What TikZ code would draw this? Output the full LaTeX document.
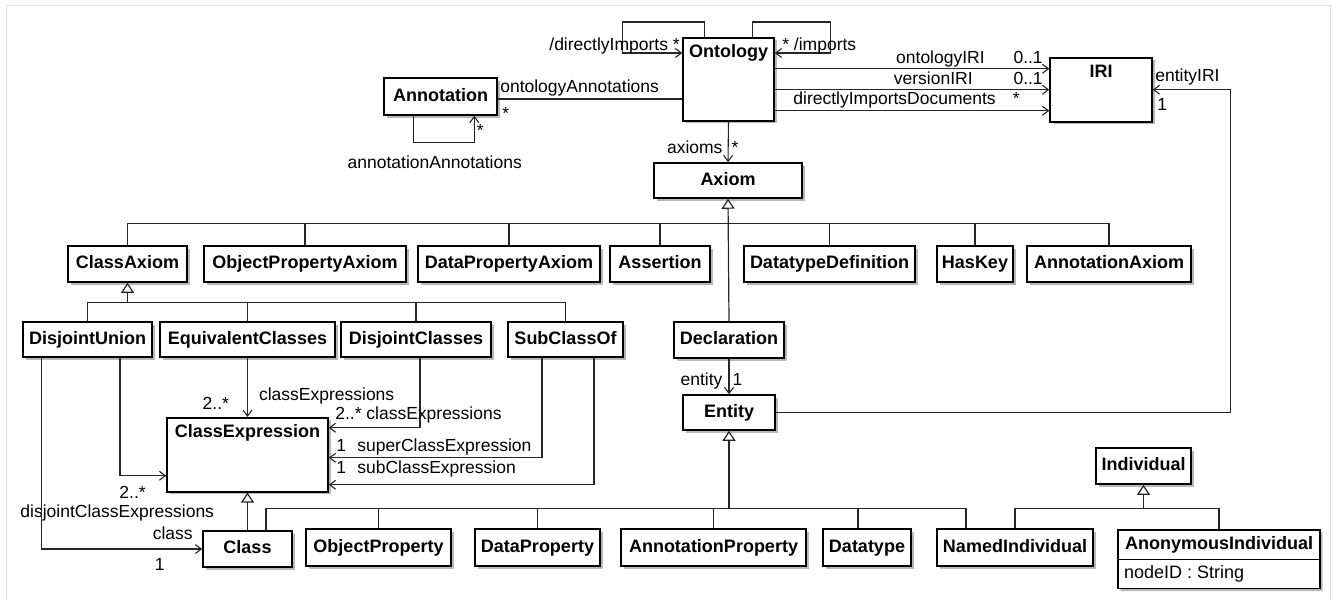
\documentclass[tikz,border=0pt]{standalone}
\usepackage{fontspec}
\setmainfont{Liberation Sans}
\usetikzlibrary{arrows.meta,shapes.multipart,shadows,positioning}

\begin{document}
\begin{tikzpicture}
		[x=1pt,y=-1pt,>={Straight Barb[length=6pt,width=9pt]},
		umlbox/.style={draw,line width=1.5pt,fill=white,general shadow={fill=black!28,shadow xshift=2.5pt,shadow yshift=-2.5pt},font=\bfseries\fontsize{18}{21}\selectfont,inner xsep=4pt,inner ysep=0pt,text height=13pt,text depth=4pt,minimum height=36pt},
		tallbox/.style={umlbox,anchor=north,inner ysep=7pt,text depth=#1},
		lbl/.style={font=\fontsize{17.5}{20}\selectfont,inner sep=1pt,text height=13pt,text depth=4pt},
		assoc/.style={draw=black!85,line width=1.1pt},
		gen/.style={draw=black!85,line width=1.2pt,-{Triangle[open,length=10pt,width=13pt,fill=white]}},
		genline/.style={draw=black!85,line width=1.2pt}]
		\useasboundingbox (0,0) rectangle (1344,600);
		\draw[black!12,line width=1pt] (6,600) -- (6,5) -- (1330,5) -- (1330,600);

		\node[umlbox,minimum width=113pt,minimum height=37pt] (Annotation) at (440.5,96.5) {Annotation};
		\node[tallbox=56pt,minimum width=91pt] (Ontology) at (728.5,37) {Ontology};
		\node[tallbox=37pt,minimum width=102pt] (IRI) at (1101,57) {IRI};
		\node[umlbox,minimum width=148pt,minimum height=35pt] (Axiom) at (728,180.5) {Axiom};

		\node[umlbox,minimum width=119pt] (ClassAxiom) at (127.5,264) {ClassAxiom};
		\node[umlbox,minimum width=202pt] (ObjectPropertyAxiom) at (305,264) {ObjectPropertyAxiom};
		\node[umlbox,minimum width=182pt] (DataPropertyAxiom) at (509,264) {DataPropertyAxiom};
		\node[umlbox,minimum width=100pt] (Assertion) at (660,264) {Assertion};
		\node[umlbox,minimum width=171pt] (DatatypeDefinition) at (829.5,264) {DatatypeDefinition};
		\node[umlbox,minimum width=76pt] (HasKey) at (975,264) {HasKey};
		\node[umlbox,minimum width=164pt] (AnnotationAxiom) at (1109,264) {AnnotationAxiom};

		\node[umlbox,minimum width=129pt,minimum height=35pt] (DisjointUnion) at (87.5,339.5) {DisjointUnion};
		\node[umlbox,minimum width=175pt,minimum height=35pt] (EquivalentClasses) at (247.5,339.5) {EquivalentClasses};
		\node[umlbox,minimum width=150pt,minimum height=35pt] (DisjointClasses) at (416,339.5) {DisjointClasses};
		\node[umlbox,minimum width=115pt,minimum height=35pt] (SubClassOf) at (565.5,339.5) {SubClassOf};
		\node[umlbox,minimum width=110pt] (Declaration) at (729,340) {Declaration};

		\node[tallbox=47pt,minimum width=161pt] (ClassExpression) at (247.5,417) {ClassExpression};
		\node[umlbox,minimum width=92pt,minimum height=35pt] (Entity) at (729,412.5) {Entity};
		\node[umlbox,minimum width=95pt] (Individual) at (1143.5,466) {Individual};

		\node[umlbox,minimum width=89pt] (Class) at (247.5,549) {Class};
		\node[umlbox,minimum width=145pt,minimum height=37pt] (ObjectProperty) at (378.5,547.5) {ObjectProperty};
		\node[umlbox,minimum width=125pt,minimum height=37pt] (DataProperty) at (537.5,547.5) {DataProperty};
		\node[umlbox,minimum width=185pt,minimum height=37pt] (AnnotationProperty) at (713.5,547.5) {AnnotationProperty};
		\node[umlbox,minimum width=88pt,minimum height=37pt] (Datatype) at (867,547.5) {Datatype};
		\node[umlbox,minimum width=156pt,minimum height=37pt] (NamedIndividual) at (1015,547.5) {NamedIndividual};
		\node[umlbox,anchor=north,rectangle split,rectangle split parts=2,rectangle split part align={center,left},inner xsep=6pt,inner ysep=5.5pt,minimum height=0pt] (AnonymousIndividual) at (1219,529)
			{\makebox[190pt]{AnonymousIndividual}\nodepart{two}\mdseries nodeID : String};

		\draw[assoc,->] ([xshift=-24pt]Ontology.north) -- ++(0,-15) -- ++(-82,0) |- ([yshift=-16pt]Ontology.north west) node[lbl,above left=-3pt and 1pt] {/directlyImports *};
		\draw[assoc,->] ([xshift=24pt]Ontology.north) -- ++(0,-15) -- ++(78,0) |- ([yshift=-16pt]Ontology.north east) node[lbl,above right=-3pt and 6pt] {* /imports};

		\coordinate (annOut) at ([yshift=-2.5pt]Annotation.east);
		\draw[assoc] (annOut) -- (annOut -| Ontology.west) node[lbl,pos=0,above right=1pt and 1pt] {ontologyAnnotations} node[lbl,pos=0,below right=6pt and 3pt] {*};
		\draw[assoc,->] ([xshift=30pt]Annotation.south west) -- ++(0,27) -- node[lbl,below=11pt,xshift=-9pt] {annotationAnnotations} ++(61,0) -- ++(0,-27) node[lbl,below right=6pt and 1pt] {*};

		\coordinate (ontIRI) at ([yshift=10.5pt]Ontology.east);
		\coordinate (verIRI) at ([yshift=-10.5pt]Ontology.east);
		\coordinate (docIRI) at ([yshift=-31.5pt]Ontology.east);
		\draw[assoc,->] (ontIRI) -- (ontIRI -| IRI.west) node[lbl,above left=0pt and 5pt] {0..1} node[lbl,above left=0pt and 63pt] {ontologyIRI};
		\draw[assoc,->] (verIRI) -- (verIRI -| IRI.west) node[lbl,above left=0pt and 5pt] {0..1} node[lbl,above left=0pt and 75pt] {versionIRI};
		\draw[assoc,->] (docIRI) -- (docIRI -| IRI.west) node[lbl,above left=1pt and 28pt] {*} node[lbl,above left=1pt and 52pt] {directlyImportsDocuments};

		\draw[assoc,->] (Ontology.south) -- (Axiom.north) node[lbl,above left=3pt and 4pt] {axioms} node[lbl,above right=3pt and 2pt] {*};
		\draw[assoc,->] (Entity.east) -- ++(455,0) |- (IRI.east) node[lbl,above right=3pt and 1pt] {entityIRI} node[lbl,below right=6pt and 3pt] {1};
		\draw[assoc,->] (Declaration.south) -- (Entity.north) node[lbl,above left=3pt and 5pt] {entity} node[lbl,above right=3pt and 2pt] {1};

		\draw[assoc,->] (EquivalentClasses.south) -- (ClassExpression.north) node[lbl,pos=0.64,right=10pt] {classExpressions} node[lbl,above left=2pt and 17pt] {2..*};
		\draw[assoc,->] ([xshift=4pt]DisjointClasses.south) |- ([yshift=27pt]ClassExpression.east) node[lbl,above right=3pt and 5pt] {2..* classExpressions};
		\draw[assoc,->] ([xshift=-23.5pt]SubClassOf.south) |- ([yshift=-3pt]ClassExpression.east) node[lbl,above right=1pt and 6pt] {1} node[lbl,above right=1pt and 27pt] {superClassExpression};
		\draw[assoc,->] ([xshift=28.5pt]SubClassOf.south) |- ([yshift=-30pt]ClassExpression.east) node[lbl,above right=6pt and 6pt] {1} node[lbl,above right=6pt and 27pt] {subClassExpression};
		\draw[assoc,->] ([xshift=32.5pt]DisjointUnion.south) |- ([yshift=-21pt]ClassExpression.west) node[lbl,below left=8pt and 19pt] {2..*} node[lbl,below=27pt,xshift=-49pt] {disjointClassExpressions};
		\draw[assoc,->] ([xshift=19pt]DisjointUnion.south west) |- (Class.west) node[lbl,above left=4pt and 8pt] {class} node[lbl,below left=7pt and 36pt] {1};

		\coordinate (axiomBus) at ([yshift=-25pt]Axiom.south);
		\draw[genline] (ClassAxiom.north) |- (axiomBus);
		\draw[genline] (ObjectPropertyAxiom.north) |- (axiomBus);
		\draw[genline] (DataPropertyAxiom.north) |- (axiomBus);
		\draw[genline] (Assertion.north) |- (axiomBus);
		\draw[genline] (DatatypeDefinition.north) |- (axiomBus);
		\draw[genline] (HasKey.north) |- (axiomBus);
		\draw[genline] (AnnotationAxiom.north) |- (axiomBus);
		\draw[gen] (Declaration.north) -- (Axiom.south);

		\coordinate (classAxiomBus) at ([yshift=-20pt]ClassAxiom.south);
		\draw[genline] (DisjointUnion.north) |- (classAxiomBus);
		\draw[genline] (EquivalentClasses.north) |- (classAxiomBus);
		\draw[genline] (DisjointClasses.north) |- (classAxiomBus);
		\draw[genline] (SubClassOf.north) |- (classAxiomBus);
		\draw[gen] (classAxiomBus) -- (ClassAxiom.south);

		\draw[gen] (Class.north) -- (ClassExpression.south);

		\coordinate (entityBus) at ([yshift=-78pt]Entity.south);
		\draw[genline] ([xshift=18.5pt]Class.north) |- (entityBus);
		\draw[genline] (ObjectProperty.north) |- (entityBus);
		\draw[genline] (DataProperty.north) |- (entityBus);
		\draw[genline] (AnnotationProperty.north) |- (entityBus);
		\draw[genline] ([xshift=-9pt]Datatype.north) |- (entityBus);
		\draw[genline] ([xshift=-49pt]NamedIndividual.north) |- (entityBus);
		\draw[gen] (entityBus) -- (Entity.south);

		\coordinate (individualBus) at ([yshift=-24pt]Individual.south);
		\draw[genline] (NamedIndividual.north) |- (individualBus);
		\draw[genline] (AnonymousIndividual.north) |- (individualBus);
		\draw[gen] (individualBus) -- (Individual.south);

	\end{tikzpicture}
\end{document}
